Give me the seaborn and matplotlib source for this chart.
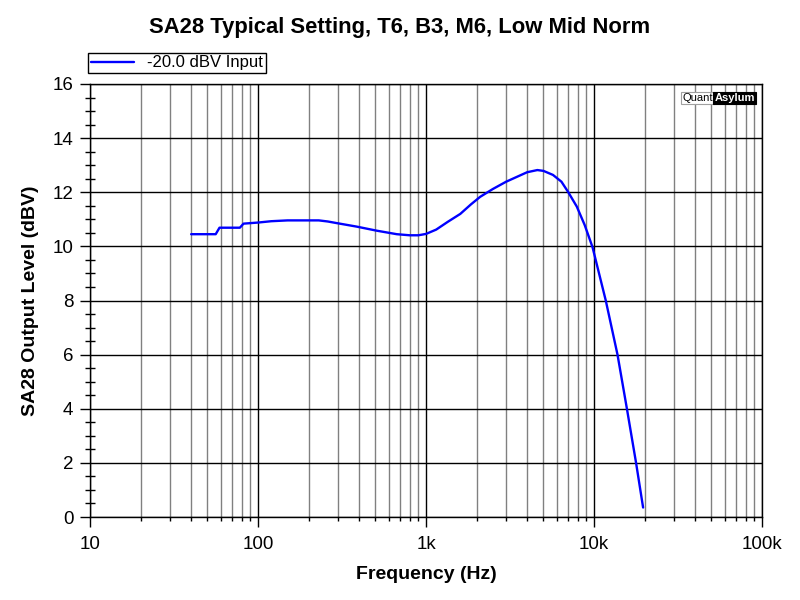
import numpy as np
import pandas as pd
import seaborn as sns
import matplotlib.pyplot as plt
from matplotlib.ticker import LogLocator, MultipleLocator, FuncFormatter

# frequency response
freq_hz = [40, 56, 59, 78, 82, 100, 120, 150, 230, 260, 294, 387, 509, 670,
           800, 900, 1000, 1150, 1350, 1600, 1850, 2100, 2500, 3000, 4000, 4600,
           5000, 5700, 6400, 7000, 7900, 8800, 9800, 11750, 13800, 15700, 17800,
           19600]
level_dbv = [10.45, 10.45, 10.69, 10.69, 10.84, 10.88, 10.93, 10.96, 10.96, 10.92,
             10.86, 10.73, 10.58, 10.45, 10.41, 10.41, 10.46, 10.62, 10.91, 11.2,
             11.55, 11.83, 12.12, 12.39, 12.74, 12.82, 12.79, 12.64, 12.39, 12.02,
             11.47, 10.79, 9.97, 8.0, 6.0, 4.0, 2.0, 0.35]
series_name = "-20.0 dBV Input"

x_ticks = [10, 100, 1000, 10000, 100000]
x_ticklabels = ["10", "100", "1k", "10k", "100k"]

sns.set_style("white")
plt.rcParams['font.family'] = ['Liberation Sans', 'DejaVu Sans']
plt.rcParams['text.color'] = 'black'
plt.rcParams['axes.labelcolor'] = 'black'

df = pd.DataFrame({"Frequency": freq_hz, "Level": level_dbv, "Series": series_name})

fig = plt.figure(figsize=(8, 6), dpi=100)
ax = fig.add_axes([90 / 800, 1 - 517 / 600, 672 / 800, 433 / 600])

sns.lineplot(data=df, x="Frequency", y="Level", hue="Series", palette=["#0000ff"],
             linewidth=1.7, ax=ax, legend=False, zorder=5)

ax.set_xscale("log")
ax.set_xlim(10, 100000)
ax.set_ylim(0, 16)

# grid: black majors, grey minors on x
ax.xaxis.set_major_locator(LogLocator(base=10))
ax.xaxis.set_minor_locator(LogLocator(base=10, subs=np.arange(2, 10)))
ax.set_xticks(x_ticks)
ax.set_xticklabels(x_ticklabels)
ax.xaxis.set_minor_formatter(FuncFormatter(lambda v, p: ""))
ax.yaxis.set_major_locator(MultipleLocator(2))
ax.yaxis.set_minor_locator(MultipleLocator(0.5))
ax.grid(True, which="major", color="black", linewidth=1)
ax.grid(True, which="minor", axis="x", color="#808080", linewidth=1)

for s in ax.spines.values():
    s.set_color("black")
    s.set_linewidth(1)

ax.tick_params(axis="both", which="both", left=True, bottom=True)
ax.tick_params(axis="both", which="major", direction="out", length=7, width=1,
               labelsize=13.5, colors="black", pad=5)
ax.tick_params(axis="y", which="minor", direction="inout", length=7, width=1,
               colors="black")
ax.tick_params(axis="x", which="minor", length=3, width=1, colors="black")
ax.tick_params(axis="x", which="major", pad=7)

ax.set_xlabel("Frequency (Hz)", fontsize=14, fontweight="bold", labelpad=9)
ax.set_ylabel("SA28 Output Level (dBV)", fontsize=14, fontweight="bold", labelpad=10)
fig.text(0.5, 1 - 28 / 600, "SA28 Typical Setting, T6, B3, M6, Low Mid Norm",
         ha="center", va="center", fontsize=15.8, fontweight="bold")

# legend above the plot, square black frame
handle = plt.Line2D([], [], color="#0000ff", linewidth=1.7)
leg = fig.legend([handle], [series_name], loc="upper left",
                 bbox_to_anchor=(88 / 800, 1 - 53 / 600), fancybox=False,
                 edgecolor="black", framealpha=1, fontsize=12,
                 handlelength=2.6, borderpad=0.15, handletextpad=0.8,
                 borderaxespad=0)
leg.get_frame().set_linewidth(1)

# QuantAsylum mark
ax.text(0.881, 0.968, "Quant", transform=ax.transAxes, fontsize=8,
        ha="left", va="center", color="black", zorder=6,
        bbox=dict(boxstyle="square,pad=0.1", fc="white", ec="#a0a0a0", lw=0.8))
ax.text(0.929, 0.968, "Asylum", transform=ax.transAxes, fontsize=8,
        fontweight="bold", ha="left", va="center", color="white", zorder=6,
        bbox=dict(boxstyle="square,pad=0.1", fc="black", ec="black", lw=0.8))

fig.savefig("out.png", dpi=100)
